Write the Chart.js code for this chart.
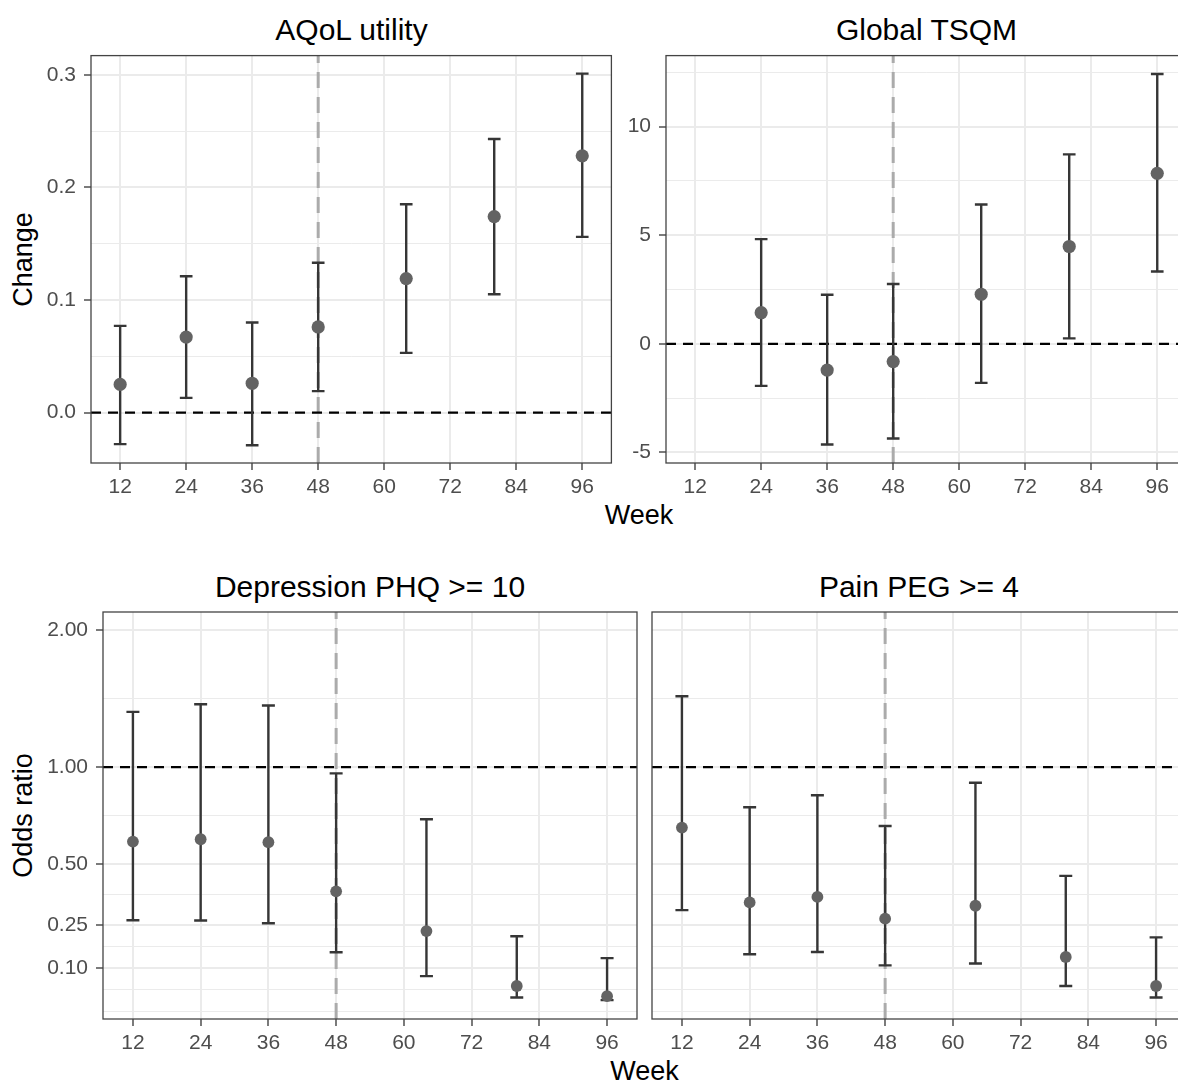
<!DOCTYPE html>
<html lang="en">
<head>
    <meta charset="UTF-8" />
    <title>Change and odds ratio by week</title>
    <style>
        html, body {
            margin: 0;
            padding: 0;
            background: #fff;
            overflow: hidden;
            width: 1178px;
            height: 1083px;
            position: relative;
        }
        canvas.panel {
            position: absolute;
        }
        .txt {
            position: absolute;
            width: 600px;
            white-space: nowrap;
            text-align: center;
            font-family: "Liberation Sans", Arial, sans-serif;
            color: #000;
        }
        .title { font-size: 30px; line-height: 30px; }
        .axis { font-size: 27px; line-height: 27px; }
        .rot { transform: rotate(-90deg); }
    </style>
    <script src="https://cdn.jsdelivr.net/npm/chart.js"></script>
</head>
<body>
    <!-- panel titles (baseline ~ top + 0.85em) -->
    <div class="txt title" style="left: 51.5px; top: 15px;">AQoL utility</div>
    <div class="txt title" style="left: 626.5px; top: 15px;">Global TSQM</div>
    <div class="txt title" style="left: 70px; top: 571.5px;">Depression PHQ &gt;= 10</div>
    <div class="txt title" style="left: 619px; top: 571.5px;">Pain PEG &gt;= 4</div>

    <!-- axis titles -->
    <div class="txt axis" style="left: 339px; top: 502px;">Week</div>
    <div class="txt axis" style="left: 344.5px; top: 1058px;">Week</div>
    <div class="txt axis rot" style="left: -277.5px; top: 245.5px;">Change</div>
    <div class="txt axis rot" style="left: -277.5px; top: 802px;">Odds ratio</div>

    <canvas id="aqol" class="panel"></canvas>
    <canvas id="tsqm" class="panel"></canvas>
    <canvas id="phq" class="panel"></canvas>
    <canvas id="peg" class="panel"></canvas>

    <script>
        // ---- data ----
        const weeks = [12, 24, 36, 48, 64, 80, 96];
        const tsqmWeeks = [24, 36, 48, 64, 80, 96];
        const xTicks = [12, 24, 36, 48, 60, 72, 84, 96];
        const refWeek = 48;

        const aqolEst = [0.025, 0.067, 0.026, 0.076, 0.119, 0.174, 0.228];
        const aqolLower = [-0.028, 0.013, -0.029, 0.019, 0.053, 0.105, 0.156];
        const aqolUpper = [0.077, 0.121, 0.080, 0.133, 0.185, 0.243, 0.301];
        const aqolTicks = [0, 0.1, 0.2, 0.3];

        const tsqmEst = [1.43, -1.21, -0.82, 2.28, 4.48, 7.85];
        const tsqmLower = [-1.94, -4.64, -4.36, -1.80, 0.25, 3.33];
        const tsqmUpper = [4.82, 2.26, 2.75, 6.41, 8.72, 12.42];
        const tsqmTicks = [-5, 0, 5, 10];

        const phqEst = [0.603, 0.614, 0.600, 0.383, 0.229, 0.044, 0.013];
        const phqLower = [0.269, 0.268, 0.258, 0.154, 0.075, 0.009, 0.001];
        const phqUpper = [1.356, 1.410, 1.401, 0.963, 0.713, 0.210, 0.134];

        const pegEst = [0.671, 0.338, 0.360, 0.275, 0.325, 0.138, 0.044];
        const pegLower = [0.308, 0.147, 0.155, 0.110, 0.116, 0.044, 0.009];
        const pegUpper = [1.468, 0.775, 0.839, 0.679, 0.909, 0.448, 0.206];
        const oddsTicks = [0.10, 0.25, 0.50, 1.00, 2.00];

        // ---- look ----
        const FONT_FAMILY = '"Liberation Sans", Arial, sans-serif';
        const GRID = "#EBEBEB";
        const INK = "#333333";
        const TICK_TEXT = "#4D4D4D";
        const POINT = "#636363";
        const ERR = "#363636";
        const X_MIN = 6.7, X_MAX = 101.3;
        const CAP_HALF = 1.15; // weeks
        const PAD_T = 6, PAD_R = 6, PAD_B = 50;

        // odds ratios are drawn on a log(1 + x) axis
        const log1p = (v) => Math.log1p(v);

        // ggplot style minor breaks: midpoints, plus one extra break past the ends
        function minorBreaks(majors, min, max) {
            const b = majors.slice();
            const d = b[1] - b[0];
            if (min < b[0]) b.unshift(b[0] - d);
            if (max > b[b.length - 1]) b.push(b[b.length - 1] + d);
            const out = [];
            for (let i = 0; i < b.length; i++) {
                if (i > 0) out.push((b[i - 1] + b[i]) / 2);
                if (!majors.includes(b[i])) out.push(b[i]);
            }
            return out.filter((v) => v >= min && v <= max);
        }

        function buildTicks(majors, labels, min, max) {
            const t = majors.map((v, i) => ({ value: v, lbl: labels[i], minor: false }));
            minorBreaks(majors, min, max).forEach((v) => t.push({ value: v, lbl: "", minor: true }));
            return t.sort((a, b) => a.value - b.value);
        }

        function stems(xs, lo, hi) {
            const pts = [];
            xs.forEach((x, i) => {
                pts.push({ x: x, y: lo[i] }, { x: x, y: hi[i] }, { x: x, y: null });
            });
            return pts;
        }

        function caps(xs, lo, hi) {
            const pts = [];
            xs.forEach((x, i) => {
                pts.push({ x: x - CAP_HALF, y: hi[i] }, { x: x + CAP_HALF, y: hi[i] }, { x: x, y: null });
                pts.push({ x: x - CAP_HALF, y: lo[i] }, { x: x + CAP_HALF, y: lo[i] }, { x: x, y: null });
            });
            return pts;
        }

        const panelBorder = {
            id: "panelBorder",
            afterDatasetsDraw(chart) {
                const { ctx, chartArea: a } = chart;
                ctx.save();
                ctx.strokeStyle = "#444";
                ctx.lineWidth = 1.3;
                ctx.strokeRect(a.left, a.top, a.right - a.left, a.bottom - a.top);
                ctx.restore();
            },
        };

        function makePanel(id, p) {
            const canvas = document.getElementById(id);
            const cw = p.yWidth + p.w + PAD_R;
            const ch = PAD_T + p.h + PAD_B;
            canvas.width = cw;
            canvas.height = ch;
            canvas.style.width = cw + "px";
            canvas.style.height = ch + "px";
            canvas.style.left = p.left - p.yWidth + "px";
            canvas.style.top = p.top - PAD_T + "px";

            const f = p.transform || ((v) => v);
            const est = p.est.map(f), lo = p.lower.map(f), hi = p.upper.map(f);
            const yTicks = buildTicks(p.ticks.map(f), p.tickLabels, p.yMin, p.yMax);

            new Chart(canvas, {
                type: "scatter",
                data: {
                    datasets: [
                        {
                            data: p.x.map((x, i) => ({ x: x, y: est[i] })),
                            pointRadius: p.radius,
                            pointBackgroundColor: POINT,
                            pointBorderWidth: 0,
                            order: 0,
                        },
                        {
                            type: "line",
                            data: stems(p.x, lo, hi),
                            borderColor: ERR,
                            borderWidth: 2.4,
                            pointRadius: 0,
                            spanGaps: false,
                            order: 1,
                        },
                        {
                            type: "line",
                            data: caps(p.x, lo, hi),
                            borderColor: ERR,
                            borderWidth: 2.4,
                            pointRadius: 0,
                            spanGaps: false,
                            order: 1,
                        },
                        {
                            type: "line",
                            data: [{ x: X_MIN, y: f(p.ref) }, { x: X_MAX, y: f(p.ref) }],
                            borderColor: "#000",
                            borderWidth: 2.2,
                            borderDash: [10, 7],
                            pointRadius: 0,
                            order: 2,
                        },
                        {
                            type: "line",
                            data: [{ x: refWeek, y: p.yMin }, { x: refWeek, y: p.yMax }],
                            borderColor: "#ABABAB",
                            borderWidth: 3,
                            borderDash: [16, 9],
                            pointRadius: 0,
                            order: 3,
                        },
                    ],
                },
                options: {
                    responsive: false,
                    animation: false,
                    devicePixelRatio: 1,
                    layout: { padding: { left: 0, top: PAD_T, right: PAD_R, bottom: 0 } },
                    plugins: {
                        legend: { display: false },
                        tooltip: { enabled: false },
                    },
                    scales: {
                        x: {
                            type: "linear",
                            min: X_MIN,
                            max: X_MAX,
                            afterBuildTicks: (s) => {
                                s.ticks = xTicks.map((v) => ({ value: v }));
                            },
                            afterFit: (s) => {
                                s.height = PAD_B;
                                s.paddingLeft = 0;
                                s.paddingRight = 0;
                            },
                            ticks: {
                                color: TICK_TEXT,
                                font: { family: FONT_FAMILY, size: 21 },
                                padding: 5,
                                maxRotation: 0,
                                autoSkip: false,
                                callback: (v) => String(v),
                            },
                            grid: {
                                color: GRID,
                                lineWidth: 2,
                                tickColor: INK,
                                tickWidth: 1.3,
                                tickLength: 7,
                            },
                            border: { display: false },
                        },
                        y: {
                            type: "linear",
                            min: p.yMin,
                            max: p.yMax,
                            afterBuildTicks: (s) => {
                                s.ticks = yTicks.map((t) => ({ value: t.value, lbl: t.lbl, minor: t.minor }));
                            },
                            afterFit: (s) => {
                                s.width = p.yWidth;
                                s.paddingTop = 0;
                                s.paddingBottom = 0;
                            },
                            ticks: {
                                display: p.showYLabels,
                                color: TICK_TEXT,
                                font: { family: FONT_FAMILY, size: 21 },
                                padding: 8,
                                autoSkip: false,
                                callback: (v, i, ticks) => ticks[i].lbl,
                            },
                            grid: {
                                color: GRID,
                                lineWidth: (c) => (c.tick && c.tick.minor ? 1 : 2),
                                drawTicks: p.showYLabels,
                                tickColor: (c) => (c.tick && c.tick.minor ? "rgba(0,0,0,0)" : INK),
                                tickWidth: 1.3,
                                tickLength: 7,
                            },
                            border: { display: false },
                        },
                    },
                },
                plugins: [panelBorder],
            });
        }

        const oddsMin = -0.0549, oddsMax = 1.1535; // limits on the log(1 + x) axis

        makePanel("aqol", {
            left: 91, top: 55, w: 521, h: 408, yWidth: 80, showYLabels: true,
            x: weeks, est: aqolEst, lower: aqolLower, upper: aqolUpper,
            ticks: aqolTicks, tickLabels: aqolTicks.map((v) => v.toFixed(1)),
            yMin: -0.0448, yMax: 0.317, ref: 0, radius: 6.6,
        });

        makePanel("tsqm", {
            left: 666, top: 55, w: 521, h: 408, yWidth: 80, showYLabels: true,
            x: tsqmWeeks, est: tsqmEst, lower: tsqmLower, upper: tsqmUpper,
            ticks: tsqmTicks, tickLabels: tsqmTicks.map((v) => String(v)),
            yMin: -5.49, yMax: 13.27, ref: 0, radius: 6.6,
        });

        makePanel("phq", {
            left: 103, top: 612, w: 534, h: 407, yWidth: 90, showYLabels: true,
            x: weeks, est: phqEst, lower: phqLower, upper: phqUpper,
            ticks: oddsTicks, tickLabels: oddsTicks.map((v) => v.toFixed(2)),
            transform: log1p, yMin: oddsMin, yMax: oddsMax, ref: 1, radius: 5.9,
        });

        makePanel("peg", {
            left: 652, top: 612, w: 534, h: 407, yWidth: 6, showYLabels: false,
            x: weeks, est: pegEst, lower: pegLower, upper: pegUpper,
            ticks: oddsTicks, tickLabels: oddsTicks.map(() => ""),
            transform: log1p, yMin: oddsMin, yMax: oddsMax, ref: 1, radius: 5.9,
        });
    </script>
</body>
</html>
